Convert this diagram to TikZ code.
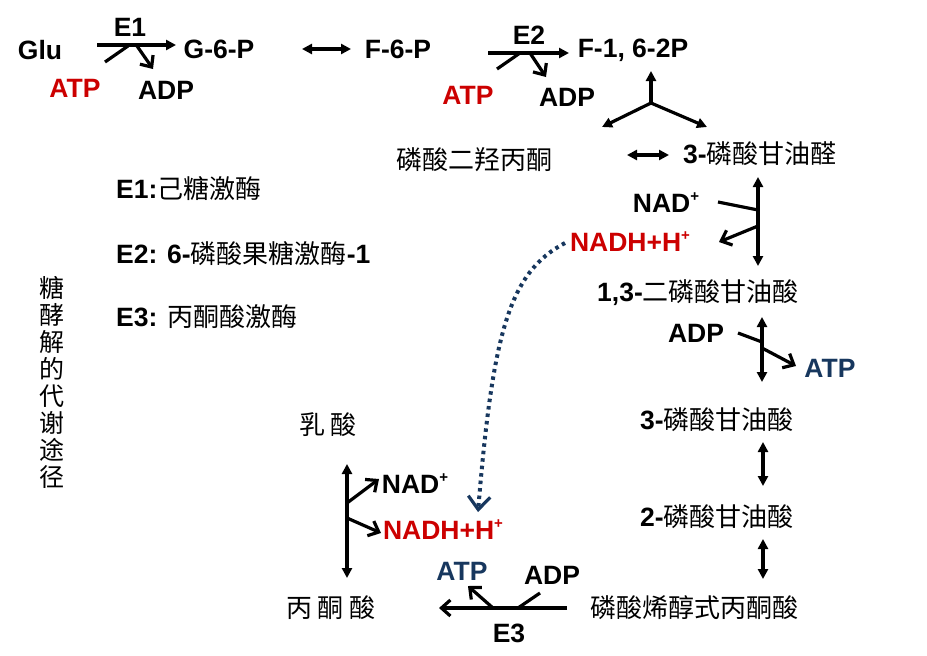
\documentclass[tikz,border=0pt]{standalone}
\usepackage{fontspec}
\setmainfont{Liberation Sans}
\newfontfamily\cjk{Noto Sans CJK SC}
\usetikzlibrary{arrows.meta}
\definecolor{myred}{HTML}{CC0000}
\definecolor{myblue}{HTML}{17375E}
\newcommand{\zh}[1]{{\mdseries\cjk\fontsize{26}{26}\selectfont #1}}
\newcommand{\nadp}{NAD\raisebox{0.42em}{\fontsize{15}{15}\selectfont +}}
\newcommand{\nadh}{NADH+H\raisebox{0.42em}{\fontsize{15}{15}\selectfont +}}
\begin{document}
\begin{tikzpicture}[x=1pt,y=-1pt,
  lbl/.style={font=\bfseries\fontsize{26.5}{26.5}\selectfont, inner sep=0pt},
  cn/.style={font=\mdseries\cjk\fontsize{26}{26}\selectfont, inner sep=0pt},
  main/.style={line width=3.2pt, -{Triangle[length=10pt,width=10pt]}},
  both/.style={line width=3.2pt, {Triangle[length=10pt,width=10pt]}-{Triangle[length=10pt,width=10pt]}},
  branch/.style={line width=3.2pt, -{Straight Barb[length=9pt,width=16pt]}},
  plain/.style={line width=3.2pt},
  dots/.style={line width=4pt, myblue, dash pattern=on 3.5pt off 4pt, -{Straight Barb[length=13pt,width=22pt,line width=3.2pt]}}
]
\useasboundingbox (0,0) rectangle (927,656);

% --- top row ---
\node[lbl] (glu) at (40,50) {Glu};
\node[lbl] (e1) at (130,27) {E1};
\node[lbl] (g6p) at (219,49) {G-6-P};
\node[lbl] (f6p) at (398,49) {F-6-P};
\node[lbl] (e2) at (529,35) {E2};
\node[lbl] (f16) at (633,50) {F-1, 6-2P};
\node[lbl, myred] (atp1) at (75,88) {ATP};
\node[lbl] (adp1) at (166,90) {ADP};
\node[lbl, myred] (atp2) at (468,95) {ATP};
\node[lbl] (adp2) at (567,97) {ADP};

% --- right column ---
\node[cn] (dhap) at (474,160) {磷酸二羟丙酮};
\node[lbl] (gap) at (760,154) {3-\zh{磷酸甘油醛}};
\node[lbl] (nad1) at (666,203) {\nadp};
\node[lbl, myred] (nadh1) at (630,242) {\nadh};
\node[lbl] (bpg) at (698,293) {1,3-\zh{二磷酸甘油酸}};
\node[lbl] (adp3) at (696,333) {ADP};
\node[lbl, myblue] (atp3) at (830,368) {ATP};
\node[lbl] (pga3) at (717,420) {3-\zh{磷酸甘油酸}};
\node[lbl] (pga2) at (717,517) {2-\zh{磷酸甘油酸}};
\node[cn] (pep) at (694,608) {磷酸烯醇式丙酮酸};

% --- bottom left ---
\node[cn] (pyr) at (331,608) {丙\hspace{6pt}酮\hspace{6pt}酸};
\node[cn] (lac) at (328,425) {乳\hspace{6pt}酸};
\node[lbl] (nad2) at (415,484) {\nadp};
\node[lbl, myred] (nadh2) at (443,530) {\nadh};
\node[lbl, myblue] (atp4) at (462,571) {ATP};
\node[lbl] (adp4) at (552,575) {ADP};
\node[lbl] (e3) at (509,633) {E3};

% --- legend and title ---
\node[lbl, anchor=west] (leg1) at (116,189) {E1:\zh{己糖激酶}};
\node[lbl, anchor=west] (leg2) at (116,254) {E2: 6-\zh{磷酸果糖激酶}-1};
\node[lbl, anchor=west] (leg3) at (116,317) {E3: \zh{丙酮酸激酶}};
\node[font=\cjk\fontsize{25}{27}\selectfont, inner sep=0pt, align=center] (title) at (52,382)
  {糖\\酵\\解\\的\\代\\谢\\途\\径};

% --- coordinates ---
\coordinate (a1s) at (97,45);   \coordinate (a1e) at (176,45);
\coordinate (a1p) at (105,62);  \coordinate (a1q) at (128,46);
\coordinate (a1r) at (137,46);  \coordinate (a1t) at (153,69);
\coordinate (d1s) at (302,49);  \coordinate (d1e) at (351,49);
\coordinate (a2s) at (488,53);  \coordinate (a2e) at (569,53);
\coordinate (a2p) at (497,69);  \coordinate (a2q) at (520,53);
\coordinate (a2r) at (530,53);  \coordinate (a2t) at (546,77);
\coordinate (sp) at (651,103);  \coordinate (spu) at (651,71);
\coordinate (spl) at (602,127); \coordinate (spr) at (707,127);
\coordinate (d2s) at (627,155); \coordinate (d2e) at (669,155);
\coordinate (v1s) at (758,177); \coordinate (v1e) at (758,266);
\coordinate (n1p) at (718,202); \coordinate (n1q) at (758,210);
\coordinate (n1r) at (758,226); \coordinate (n1t) at (719,242);
\coordinate (v2s) at (762,317); \coordinate (v2e) at (762,382);
\coordinate (b2p) at (738,333); \coordinate (b2q) at (762,342);
\coordinate (b2r) at (762,348); \coordinate (b2t) at (796,366);
\coordinate (v3s) at (763,442); \coordinate (v3e) at (763,486);
\coordinate (v4s) at (763,539); \coordinate (v4e) at (763,579);
\coordinate (a3s) at (567,608); \coordinate (a3e) at (439,608);
\coordinate (a3p) at (540,593); \coordinate (a3q) at (518,608);
\coordinate (a3r) at (493,608); \coordinate (a3t) at (468,586);
\coordinate (v5s) at (347,464); \coordinate (v5e) at (347,578);
\coordinate (l1p) at (347,503); \coordinate (l1t) at (379,479);
\coordinate (l2p) at (347,518); \coordinate (l2t) at (381,533);
\coordinate (dts) at (565,243); \coordinate (dte) at (478,512);

% --- connectors ---
\draw[main] (a1s) -- (a1e);
\draw[plain] (a1p) -- (a1q);
\draw[branch] (a1r) -- (a1t);
\draw[both] (d1s) -- (d1e);
\draw[main] (a2s) -- (a2e);
\draw[plain] (a2p) -- (a2q);
\draw[branch] (a2r) -- (a2t);
\draw[main] (sp) -- (spu);
\draw[main] (sp) -- (spl);
\draw[main] (sp) -- (spr);
\draw[both] (d2s) -- (d2e);
\draw[both] (v1s) -- (v1e);
\draw[plain] (n1p) -- (n1q);
\draw[branch] (n1r) -- (n1t);
\draw[both] (v2s) -- (v2e);
\draw[plain] (b2p) -- (b2q);
\draw[branch] (b2r) -- (b2t);
\draw[both] (v3s) -- (v3e);
\draw[both] (v4s) -- (v4e);
\draw[branch] (a3s) -- (a3e);
\draw[plain] (a3p) -- (a3q);
\draw[branch] (a3r) -- (a3t);
\draw[both] (v5s) -- (v5e);
\draw[branch] (l1p) -- (l1t);
\draw[branch] (l2p) -- (l2t);
\draw[dots] (dts) .. controls (510,272) and (493,330) .. (dte);
\end{tikzpicture}
\end{document}
